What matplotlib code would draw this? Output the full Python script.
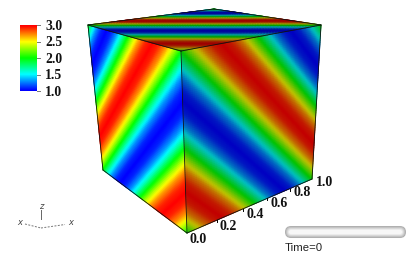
import numpy as np
import matplotlib
matplotlib.use("Agg")
import matplotlib.pyplot as plt
from matplotlib.colors import LinearSegmentedColormap
from matplotlib.patches import FancyBboxPatch

# Values
cbar_ticks = [1.0, 1.5, 2.0, 2.5, 3.0]
axis_ticks = [0.0, 0.2, 0.4, 0.6, 0.8, 1.0]
# one period of the banded field, from the green edge at a corner
band_phase = [0, .0625, .125, .1875, .25, .3125, .375, .4375, .5,
              .5625, .625, .6875, .75, .8125, .875, .9375, 1]
band_value = [2.0, 2.38, 2.71, 2.92, 3.0, 2.92, 2.71, 2.38, 2.0,
              1.62, 1.29, 1.08, 1.0, 1.08, 1.29, 1.62, 2.0]
time_label = "Time=0"

W, H = 407, 255
fig = plt.figure(figsize=(W/100, H/100), dpi=100)
ax = fig.add_axes([0, 0, 1, 1])
ax.set_xlim(0, W); ax.set_ylim(H, 0); ax.axis("off")

cmap = LinearSegmentedColormap.from_list(
    "v", [(0, 0, 1), (0, 1, 1), (0, 1, 0), (1, 1, 0), (1, 0, 0)])

def shaded(f):
    c = np.array(cmap(np.linspace(0, 1, 256)))
    c[:, :3] *= f
    return LinearSegmentedColormap.from_list("s", c)

def homography(q):
    A, b = [], []
    for (s, t), (x, y) in zip([(0, 0), (1, 0), (1, 1), (0, 1)], q):
        A.append([s, t, 1, 0, 0, 0, -s*x, -t*x]); b.append(x)
        A.append([0, 0, 0, s, t, 1, -s*y, -t*y]); b.append(y)
    return np.append(np.linalg.solve(np.array(A, float), np.array(b, float)), 1)

def project(h, s, t):
    w = h[6]*s + h[7]*t + h[8]
    return (h[0]*s + h[1]*t + h[2])/w, (h[3]*s + h[4]*t + h[5])/w

def face(q, phase, f, n=90):
    h = homography(q)
    s, t = np.meshgrid(np.linspace(0, 1, n), np.linspace(0, 1, n))
    X, Y = project(h, s, t)
    C = np.interp(np.mod(phase(s, t), 1), band_phase, band_value)
    ax.pcolormesh(X, Y, C, cmap=shaded(f), vmin=1, vmax=3, shading="gouraud", zorder=2)

LT, FT, RT, BT = (88, 26), (181, 52), (321, 26), (214, 10)
LB, FB, RB = (103, 171), (187, 234), (312, 180)

# right face: s along the bottom (front to right), t upward
face([FB, RB, RT, FT], lambda s, t: s + t, 0.76)
# left face: s from left edge to front, t upward
face([LB, FB, FT, LT], lambda s, t: t - s, 1.0)
# top face: s and t run from the front corner to the side corners
face([FT, RT, BT, LT], lambda s, t: s + t, 0.62)

for a, b in [(LT, FT), (FT, RT), (RT, BT), (BT, LT), (FT, FB), (LT, LB),
             (LB, FB), (FB, RB), (RB, RT)]:
    ax.plot([a[0], b[0]], [a[1], b[1]], color="#111111", lw=0.6, zorder=3)

# colour bar
grad = np.linspace(3, 1, 66)[:, None]
ax.imshow(grad, cmap=cmap, vmin=1, vmax=3, extent=[20, 36.5, 92, 26],
          aspect="auto", zorder=2)
ax.set_xlim(0, W); ax.set_ylim(H, 0)
for v in cbar_ticks:
    y = 92 - (v - 1)/2*66
    ax.plot([36.5, 40], [y, y], color="#777777", lw=0.7, zorder=3)
    ax.text(45, y + 0.5, f"{v:.1f}", family="Liberation Serif", weight="bold",
            fontsize=9.8, va="center", ha="left", color="#111111")

# axis tick labels along the bottom-right edge
label_xy = [(198, 240), (228, 227), (255, 215), (279.5, 204), (302.5, 193), (324.5, 183)]
for v, (x, y) in zip(axis_ticks, label_xy):
    ax.text(x, y, f"{v:.1f}", family="Liberation Serif", weight="bold",
            fontsize=10, va="center", ha="center", color="#111111")
tick_x = [187, 217, 243, 267, 290, 312]
for x in tick_x[1:-1]:
    y = 234 + (x - 187)/(312 - 187)*(180 - 234)
    ax.plot([x, x], [y, y + 2], color="black", lw=0.7, zorder=3)

# triad
ax.plot([40.5, 40.5], [211, 220], color="#666666", lw=0.7)
ax.plot([25, 41], [225, 229], color="#777777", lw=0.7, ls=(0, (2, 1.5)))
ax.plot([41, 65], [229, 225.5], color="#777777", lw=0.7, ls=(0, (2, 1.5)))
for x, y, t in [(41, 207, "z"), (20, 223, "x"), (71, 223, "x")]:
    ax.text(x, y, t, fontsize=6, style="italic", color="#444444", ha="center", va="center")

# time slider: a pill with a light centre
layers = [(0, "#b0b0b0"), (1, "#c4c4c4"), (2, "#d8d8d8"), (3, "#ebebeb"), (4, "#f7f7f7")]
for i, (inset, col) in enumerate(layers):
    r = 6 - inset
    ax.add_patch(FancyBboxPatch((291, 233), 109, 0.01,
                                boxstyle=f"round,pad={r},rounding_size={r}",
                                fc=col, ec="none", zorder=2 + i))
ax.text(285, 248, time_label, family="Liberation Sans", fontsize=8.2,
        va="center", ha="left", color="#222222")

fig.savefig("out.png", dpi=100)
